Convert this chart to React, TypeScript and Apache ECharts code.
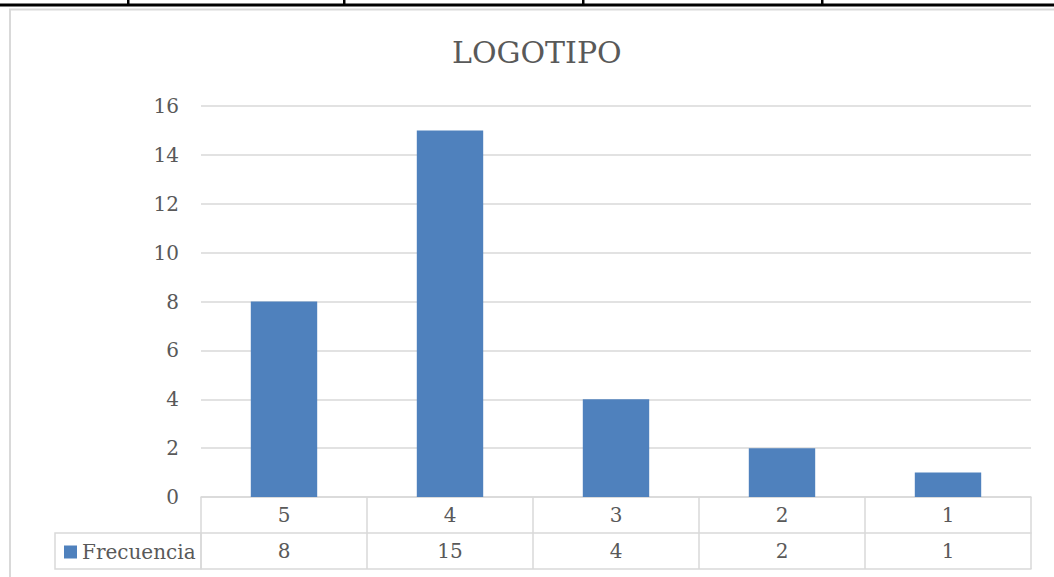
import React, { useEffect, useRef } from "react";
import * as echarts from "echarts";

// Rating scale (x categories) and how many answers each one received
const categories = ["5", "4", "3", "2", "1"];
const frecuencia = [8, 15, 4, 2, 1];
const seriesName = "Frecuencia";
const chartTitle = "LOGOTIPO";

const FONT = "'DejaVu Serif', serif";
const TEXT = "#595959";
const GRID_LINE = "#d9d9d9";
const BAR = "#4f81bd";

export default function App() {
  const ref = useRef<HTMLDivElement>(null);

  useEffect(() => {
    if (!ref.current) return;
    const chart = echarts.init(ref.current, null, { renderer: "svg" });

    const tableAxis = (offset: number, showLabel: boolean, formatter?: (v: string, i: number) => string) => ({
      type: "category" as const,
      data: categories,
      position: "bottom" as const,
      offset,
      boundaryGap: true,
      axisLine: { show: true, lineStyle: { color: GRID_LINE, width: 1.5 } },
      axisTick: { show: false },
      axisLabel: {
        show: showLabel,
        margin: 8,
        fontFamily: FONT,
        fontSize: 20,
        color: TEXT,
        formatter,
      },
    });

    chart.setOption({
      animation: false,
      title: {
        text: chartTitle,
        left: 447,
        top: 32,
        textStyle: { fontFamily: FONT, fontSize: 30, fontWeight: "normal", color: TEXT },
      },
      grid: { left: 201, right: 23, top: 106, bottom: 80, containLabel: false },
      legend: {
        show: true,
        left: 59,
        top: 537,
        icon: "rect",
        itemWidth: 13,
        itemHeight: 13,
        itemGap: 4,
        textStyle: { fontFamily: FONT, fontSize: 20, color: TEXT },
        data: [seriesName],
      },
      xAxis: [
        {
          ...tableAxis(0, true),
          axisTick: {
            show: true,
            alignWithLabel: false,
            length: 72,
            lineStyle: { color: GRID_LINE, width: 1.5 },
          },
        },
        tableAxis(36, true, (_v: string, i: number) => String(frecuencia[i])),
        tableAxis(72, false),
      ],
      yAxis: {
        type: "value",
        min: 0,
        max: 16,
        interval: 2,
        axisLine: { show: false },
        axisTick: { show: false },
        splitLine: { lineStyle: { color: GRID_LINE, width: 1.5 } },
        axisLabel: { margin: 22, fontFamily: FONT, fontSize: 20, color: TEXT },
      },
      series: [
        {
          name: seriesName,
          type: "bar",
          xAxisIndex: 0,
          data: frecuencia,
          barWidth: "40%",
          itemStyle: { color: BAR },
        },
      ],
      graphic: [
        // chart frame
        {
          type: "rect",
          shape: { x: 10, y: 9.5, width: 1100, height: 600 },
          style: { fill: "none", stroke: GRID_LINE, lineWidth: 2 },
          silent: true,
        },
        // legend cell of the data table
        {
          type: "rect",
          shape: { x: 55, y: 533, width: 146, height: 36 },
          style: { fill: "none", stroke: GRID_LINE, lineWidth: 1.5 },
          silent: true,
        },
        // table rule along the top of the page
        {
          type: "rect",
          shape: { x: 0, y: 3.5, width: 1054, height: 3 },
          style: { fill: "#000" },
          silent: true,
        },
        ...[127, 343, 582, 821].map((x) => ({
          type: "rect",
          shape: { x, y: 0, width: 2.5, height: 5 },
          style: { fill: "#000" },
          silent: true,
        })),
      ],
    });

    return () => chart.dispose();
  }, []);

  return (
    <div
      ref={ref}
      style={{ position: "absolute", left: 0, top: 0, width: 1054, height: 577, background: "#fff" }}
    />
  );
}
